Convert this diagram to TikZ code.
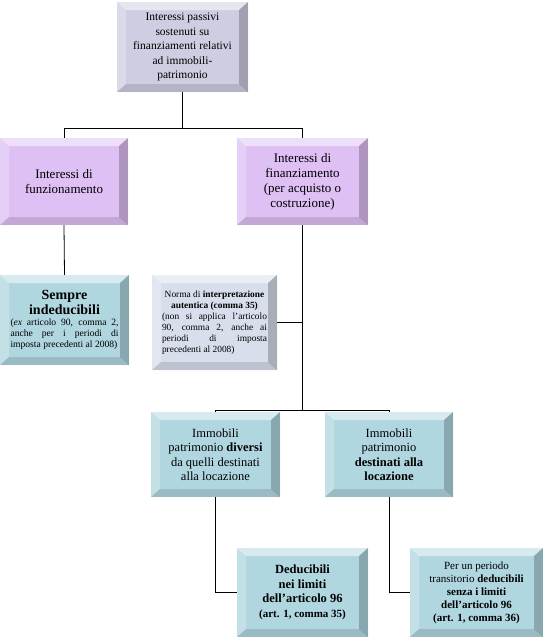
\documentclass[tikz,border=0pt]{standalone}
\usepackage{fontspec}
\setmainfont{Liberation Serif}
\usepackage{tikz}

\definecolor{grigio}{RGB}{206,206,226}
\definecolor{lilla}{RGB}{222,192,244}
\definecolor{azzurro}{RGB}{176,214,224}
\definecolor{chiaro}{RGB}{216,222,236}

\tikzset{
  bevel/.style={inner sep=0pt, align=center, path picture={
    \path (path picture bounding box.north west) coordinate (p1)
          (path picture bounding box.north east) coordinate (p2)
          (path picture bounding box.south east) coordinate (p3)
          (path picture bounding box.south west) coordinate (p4);
    \fill[white,opacity=.5] (p1) -- (p2) -- ([xshift=-9pt,yshift=-8pt]p2) -- ([xshift=9pt,yshift=-8pt]p1) -- cycle;
    \fill[white,opacity=.25] (p1) -- ([xshift=9pt,yshift=-8pt]p1) -- ([xshift=9pt,yshift=8pt]p4) -- (p4) -- cycle;
    \fill[black,opacity=.22] (p2) -- (p3) -- ([xshift=-9pt,yshift=8pt]p3) -- ([xshift=-9pt,yshift=-8pt]p2) -- cycle;
    \fill[black,opacity=.12] (p4) -- (p3) -- ([xshift=-9pt,yshift=8pt]p3) -- ([xshift=9pt,yshift=8pt]p4) -- cycle;
  }},
  conn/.style={line width=0.8pt}
}
\newcommand{\nohyph}{\hyphenpenalty=10000\exhyphenpenalty=10000\hbadness=10000}

\begin{document}
\begin{tikzpicture}[x=1pt,y=-1pt]
\useasboundingbox (0,0) rectangle (543,637);
% livello 1
\node[bevel, fill=grigio, minimum width=131pt, minimum height=90pt, font=\fontsize{11.5}{14.5}\selectfont] (top) at (182.5,47)
  {Interessi passivi\\sostenuti su\\finanziamenti relativi\\ad immobili-\\patrimonio};
% livello 2
\node[bevel, fill=lilla, minimum width=128pt, minimum height=87pt, font=\fontsize{13}{15}\selectfont] (fun) at (64,181.5)
  {Interessi di\\funzionamento};
\node[bevel, fill=lilla, minimum width=131pt, minimum height=87pt, font=\fontsize{13}{15}\selectfont] (fin) at (302.5,181.5)
  {Interessi di\\finanziamento\\(per acquisto o\\costruzione)};
% livello 3
\node[bevel, fill=azzurro, minimum width=129pt, minimum height=90pt] (semp) at (64.5,320)
  {\parbox{108pt}{\fontsize{9.6}{11}\selectfont\nohyph
   {\centering\fontsize{14}{15.5}\selectfont\bfseries Sempre\\indeducibili\par}
   (\emph{ex} articolo 90, comma 2,\linebreak anche per i periodi di\linebreak imposta precedenti al 2008)}};
\node[bevel, fill=chiaro, minimum width=125pt, minimum height=95pt] (norma) at (214.5,322.5)
  {\parbox{105pt}{\fontsize{9.4}{11}\selectfont\nohyph
   {\centering Norma di \textbf{interpretazione}\\\textbf{autentica (comma 35)}\par}
   (non si applica l'articolo\linebreak 90, comma 2, anche ai\linebreak periodi di imposta\linebreak precedenti al 2008)}};
% livello 4
\node[bevel, fill=azzurro, minimum width=129pt, minimum height=85pt, font=\fontsize{12.5}{14.5}\selectfont] (div) at (215.5,454.5)
  {Immobili\\patrimonio \textbf{diversi}\\da quelli destinati\\alla locazione};
\node[bevel, fill=azzurro, minimum width=128pt, minimum height=85pt, font=\fontsize{12.5}{14.5}\selectfont] (dest) at (389,454.5)
  {Immobili\\patrimonio\\\textbf{destinati alla}\\\textbf{locazione}};
% livello 5
\node[bevel, fill=azzurro, minimum width=131pt, minimum height=89pt, font=\fontsize{12.5}{14.5}\selectfont\bfseries] (dedu) at (302.5,592.5)
  {Deducibili\\nei limiti\\dell'articolo 96\\{\fontsize{11}{13}\selectfont(art. 1, comma 35)}};
\node[bevel, fill=azzurro, minimum width=133pt, minimum height=89pt, font=\fontsize{11}{13}\selectfont] (per) at (476.5,592.5)
  {Per un periodo\\transitorio \textbf{deducibili}\\\textbf{senza i limiti}\\\textbf{dell'articolo 96}\\\textbf{(art. 1, comma 36)}};

% collegamenti
\draw[conn] (top.south) -- ++(0,36) coordinate (j1);
\draw[conn] (fun.north) |- (j1) -| (fin.north);
\draw[conn] (fun.south) -- (semp.north);
\draw[conn] (fin.south) -- ++(0,185) coordinate (j2);
\draw[conn] (norma.east) -- (norma.east -| fin.south);
\draw[conn] (div.north) |- (j2) -| (dest.north);
\draw[conn] (div.south) |- (dedu.west);
\draw[conn] (dest.south) |- (per.west);
\end{tikzpicture}
\end{document}
